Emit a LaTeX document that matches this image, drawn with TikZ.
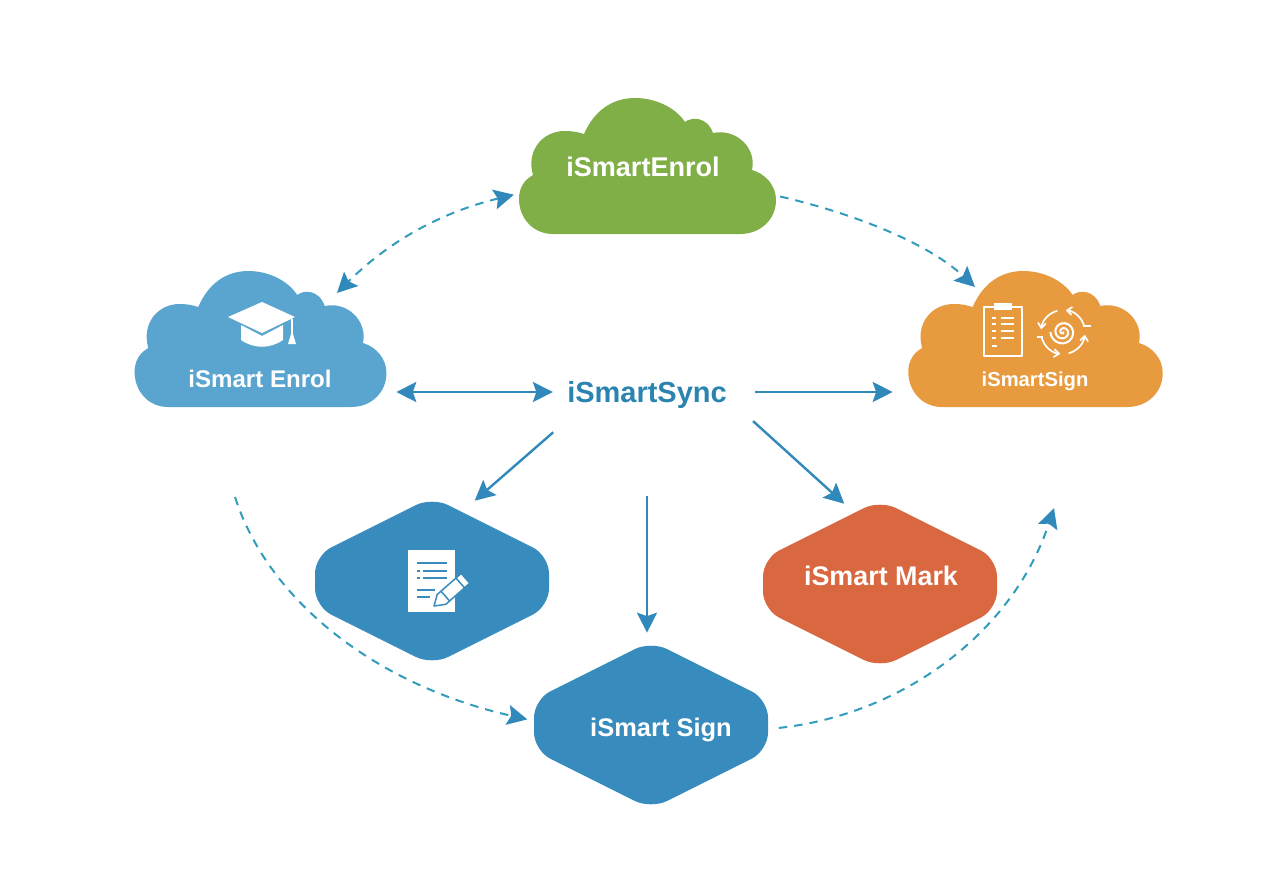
\documentclass[tikz,border=0pt]{standalone}
\usepackage{fontspec}
\setmainfont{Liberation Sans}
\usetikzlibrary{arrows.meta}
\definecolor{enrolgreen}{HTML}{80AE47}
\definecolor{cloudblue}{HTML}{5AA5D0}
\definecolor{signorange}{HTML}{E89A3E}
\definecolor{hexblue}{HTML}{378CBD}
\definecolor{markred}{HTML}{D9673F}
\definecolor{syncblue}{HTML}{2B83B0}
\definecolor{flowblue}{HTML}{3089BA}
\definecolor{dashblue}{HTML}{339BBB}
\tikzset{
	pics/cloudpic/.style={code={
		\fill[#1] (-95,68) .. controls (-115,68) and (-129,52) .. (-129,33)
			.. controls (-129,22) and (-124,14) .. (-115,9)
			.. controls (-122,-15) and (-106,-35) .. (-83,-35)
			.. controls (-76,-35) and (-70,-34) .. (-64,-32)
			.. controls (-54,-55) and (-36,-68) .. (-13,-68)
			.. controls (7,-68) and (27,-59) .. (37,-44)
			.. controls (43,-49) and (59,-50) .. (65,-33)
			.. controls (88,-38) and (109,-18) .. (104,4)
			.. controls (118,8) and (128,20) .. (128,34)
			.. controls (128,53) and (113,68) .. (92,68) -- cycle;
	}},
	pics/hexpic/.style={code={
		\fill[#1,rounded corners=.36cm] (0,-84)--(117,-25.5)--(117,25.5)--(0,84)--(-117,25.5)--(-117,-25.5)--cycle;
	}}
}
\begin{document}
\begin{tikzpicture}[x=0.02cm,y=-0.02cm,line join=round,>={Stealth[length=.4cm,width=.4cm,inset=.07cm,flowblue]},
	cloudbox/.style={inner sep=0pt,minimum width=5.04cm,minimum height=2.74cm},
	hexbox/.style={inner sep=0pt,minimum width=4.66cm,minimum height=3.2cm},
	lab/.style={inner sep=0pt,text=white,font=\bfseries\fontsize{#1}{18}\selectfont},
	flow/.style={flowblue,line width=.048cm},
	dashflow/.style={dashblue,line width=.04cm,dash pattern=on .17cm off .14cm},
	ink/.style={white,line width=.04cm},
	swirl/.style={white,line width=.034cm,-{Straight Barb[length=.1cm,width=.16cm]}}]
	\useasboundingbox (0,0) rectangle (1281,894);
	% clouds
	\pic at (648,166) {cloudpic=enrolgreen};
	\pic at (261,339) [xscale=.98] {cloudpic=cloudblue};
	\pic at (1036,339) [xscale=.99] {cloudpic=signorange};
	\node[cloudbox] (cloudTop) at (648,166) {};
	\node[cloudbox] (cloudLeft) at (261,339) {};
	\node[cloudbox] (cloudRight) at (1036,339) {};
	% hexagons
	\pic at (432,581) {hexpic=hexblue};
	\pic at (880,584) {hexpic=markred};
	\pic at (651,725) {hexpic=hexblue};
	\node[hexbox] (hexLeft) at (432,581) {};
	\node[hexbox] (hexRight) at (880,584) {};
	\node[hexbox] (hexBottom) at (651,725) {};
	% labels
	\node[lab=15.4] (labTop) at (643,167) {iSmartEnrol};
	\node[lab=13.7] (labLeft) at (260,379) {iSmart Enrol};
	\node[lab=11.5] (labRight) at (1035,381) {iSmartSign};
	\node[lab=15.3] (labMark) at (881,576) {iSmart Mark};
	\node[lab=14.5] (labSign) at (661,730) {iSmart Sign};
	\node[lab=16.5,text=syncblue,text height=15pt,text depth=3.5pt] (sync) at (647,392) {iSmartSync};
	% free ends
	\coordinate (capEnd) at (337,293);
	\coordinate (signEnd) at (975,287);
	\coordinate (leftOut) at (235,497);
	\coordinate (rightIn) at (1054,508);
	% solid arrows
	\draw[flow,<->,shorten <=.18cm,shorten >=.28cm] (cloudLeft.east |- sync.west)--(sync.west);
	\draw[flow,->,shorten <=.56cm,shorten >=.34cm] (sync.east)--(cloudRight.west |- sync.east);
	\draw[flow,->,shorten <=.72cm] (sync.194.5)--(hexLeft.62);
	\draw[flow,->,shorten <=1.74cm,shorten >=.24cm] (sync.south)--(hexBottom.north -| sync.south);
	\draw[flow,->,shorten <=.7cm] (sync.-4)--(hexRight.114);
	% dashed arrows
	\draw[dashflow,<->,shorten <=.16cm] (cloudTop.192) .. controls (430,215) and (380,250) .. (capEnd);
	\draw[dashflow,->,shorten <=.12cm] (cloudTop.-13) .. controls (860,215) and (930,245) .. (signEnd);
	\draw[dashflow,->,shorten >=.14cm] (leftOut) .. controls (268,600) and (375,685) .. (hexBottom.178);
	\draw[dashflow,->,shorten <=.22cm] (hexBottom.-2) .. controls (900,715) and (1012,635) .. (rightIn);
	% graduation cap
	\fill[white] (262,302)--(295,317)--(262,333)--(228,317)--cycle;
	\fill[white] (241,325)--(262,336)--(283,325)--(283,340) .. controls (270,349) and (254,349) .. (241,340)--cycle;
	\draw[ink] (292,319)--(292,336);
	\fill[white] (291,334)--(293,334)--(296,344)--(288,344)--cycle;
	% clipboard
	\draw[ink,line width=.05cm] (994,307)--(984,307)--(984,356)--(1022,356)--(1022,307)--(1012,307);
	\fill[white] (994,303) rectangle (1012,310);
	\foreach \y in {318,324,331,338} {
		\draw[ink] (992,\y)--(996,\y) (1001,\y)--(1014,\y);
	}
	\draw[ink] (992,346)--(997,346);
	% swirl
	\foreach \a in {15,105,195,285} {
		\draw[swirl] ([shift={(\a:.44cm)}]1063,332) arc (\a:\a+68:.44cm);
	}
	\draw[ink,smooth] plot[domain=0:900,samples=50] ({1063+cos(\x)*\x*.014},{332+sin(\x)*\x*.014});
	\draw[ink] (1037,337)--(1043,337) (1083,326)--(1091,326);
	% document and pencil
	\fill[white] (408,550) rectangle (455,612);
	\draw[hexblue,line width=.036cm] (417,563)--(447,563) (417,571)--(420,571) (423,571)--(447,571) (417,578)--(420,578) (423,578)--(447,578) (417,590)--(435,590) (417,597)--(430,597);
	\filldraw[fill=white,draw=hexblue,line width=.03cm] (434,606)--(445.8,604.3)--(469.8,583.2)--(461.2,573.4)--(437.2,594.5)--cycle;
	\draw[hexblue,line width=.03cm] (449.6,601)--(441,591.2) (464.6,587.9)--(456,578.1);
\end{tikzpicture}
\end{document}
